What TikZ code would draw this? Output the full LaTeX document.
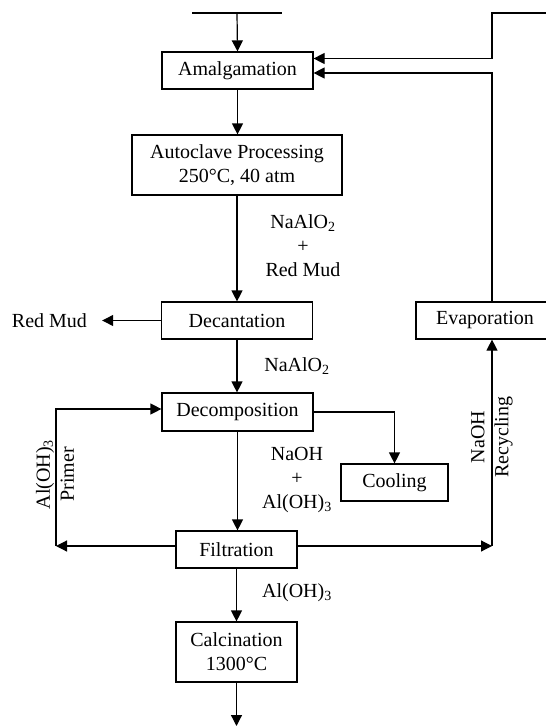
\documentclass[tikz,border=0pt]{standalone}
\usepackage{fontspec}
\setmainfont{Liberation Serif}
\usetikzlibrary{arrows.meta}
\tikzstyle{block}=[draw,line width=1.2pt,inner sep=0pt,align=center,font=\fontsize{20}{24}\selectfont]
\tikzstyle{txt}=[inner sep=0pt,align=center,font=\fontsize{20}{24}\selectfont]
\tikzstyle{wire}=[draw,line width=1.2pt]
\tikzstyle{flow}=[draw,line width=1.2pt,-{Triangle[length=11pt,width=11pt]}]

\begin{document}
\begin{tikzpicture}[x=1pt,y=-1pt]
    \useasboundingbox (0,0) rectangle (546,726);
    % process boxes
    \node[block,minimum width=151,minimum height=37] (A) at (237.5,70.5) {Amalgamation};
    \node[block,minimum width=210,minimum height=60] (B) at (237,165) {Autoclave Processing\\250°C, 40 atm};
    \node[block,minimum width=151,minimum height=37] (C) at (237,320.5) {Decantation};
    \node[block,minimum width=138,minimum height=37] (E) at (485,320.5) {Evaporation};
    \node[block,minimum width=151,minimum height=38] (D) at (237.5,412) {Decomposition};
    \node[block,minimum width=107,minimum height=37] (K) at (394.5,482.5) {Cooling};
    \node[block,minimum width=121,minimum height=37] (F) at (236.5,549.5) {Filtration};
    \node[block,minimum width=121,minimum height=60] (G) at (236.5,652) {Calcination\\1300°C};
    % stream labels
    \node[txt] (M) at (49.5,320.5) {Red Mud};
    \node[txt] at (303,246) {NaAlO\textsubscript{2}\\+\\Red Mud};
    \node[txt] at (297,366) {NaAlO\textsubscript{2}};
    \node[txt] at (297,480) {NaOH\\+\\Al(OH)\textsubscript{3}};
    \node[txt] at (297,593) {Al(OH)\textsubscript{3}};
    \node[txt,rotate=90] at (55,474.5) {Al(OH)\textsubscript{3}\\Primer};
    \node[txt,rotate=90] at (492,437) {NaOH\\Recycling};
    % free ends
    \coordinate (T1) at (192,13);
    \coordinate (T2) at (282,13);
    \coordinate (T) at (237,13);
    \coordinate (R1) at (546,13);
    \coordinate (R2) at (492,13);
    \coordinate (L) at (56,546);
    \coordinate (Q) at (492,546);
    \coordinate (Z) at (236.5,726);
    % connectors
    \draw[wire] (T1) -- (T2);
    \draw[flow] (T) -- (A.north);
    \draw[flow] (R1) -- (R2) |- ([yshift=12pt]A.east);
    \draw[flow] ([xshift=7pt]E.north) |- ([yshift=-2.5pt]A.east);
    \draw[flow] (A.south) -- (A.south |- B.north);
    \draw[flow] (B.south) -- (B.south |- C.north);
    \draw[flow] (C.west) -- ([xshift=15pt]M.east);
    \draw[flow] (C.south) -- (C.south |- D.north);
    \draw[flow] (D.east) -| (K.north);
    \draw[flow] (D.south) -- (D.south |- F.north);
    \draw[flow] ([yshift=3.5pt]F.west) -- (L);
    \draw[flow] (L) |- ([yshift=3pt]D.west);
    \draw[flow] ([yshift=3.5pt]F.east) -- (Q);
    \draw[flow] (Q) -- ([xshift=7pt]E.south);
    \draw[flow] (F.south) -- (G.north);
    \draw[flow] (G.south) -- (Z);
\end{tikzpicture}
\end{document}
